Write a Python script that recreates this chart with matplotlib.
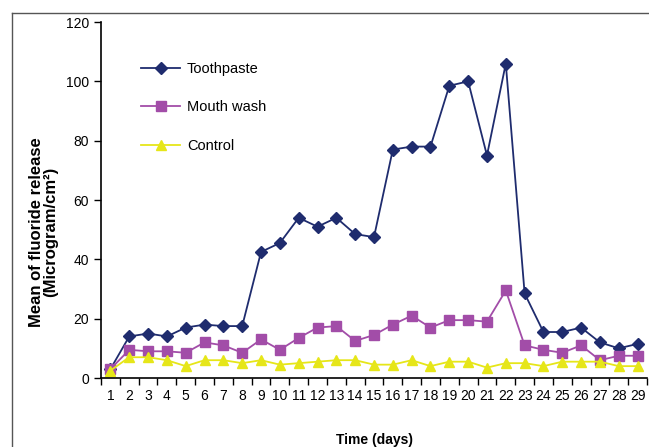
import matplotlib
matplotlib.use("Agg")
import matplotlib.pyplot as plt
from matplotlib.lines import Line2D

plt.rcParams['font.family'] = ['Liberation Sans', 'DejaVu Sans']

days = list(range(1, 30))
toothpaste = [3, 14, 15, 14, 17, 18, 17.5, 17.5, 42.5, 45.5, 54, 51, 54, 48.5, 47.5,
              77, 78, 78, 98.5, 100, 75, 106, 28.5, 15.5, 15.5, 17, 12, 10, 11.5]
mouth_wash = [3, 9.5, 9, 9, 8.5, 12, 11, 8.5, 13, 9.5, 13.5, 17, 17.5, 12.5, 14.5,
              18, 21, 17, 19.5, 19.5, 19, 29.5, 11, 9.5, 8.5, 11, 6, 7.5, 7.5]
control = [2.5, 7, 7, 6, 4, 6, 6, 5, 6, 4.5, 5, 5.5, 6, 6, 4.5,
           4.5, 6, 4, 5.5, 5.5, 3.5, 5, 5, 4, 5.5, 5.5, 5.5, 4, 4]
y_ticks = [0, 20, 40, 60, 80, 100, 120]

fig = plt.figure(figsize=(6.49, 4.47), dpi=100)
ax = fig.add_axes([101/649, 1-378/447, 546/649, 356/447])

ax.plot(days, toothpaste, color='#1F2C6E', marker='D', markersize=6, lw=1.3, label='Toothpaste')
ax.plot(days, mouth_wash, color='#A24DA8', marker='s', markersize=6.5, lw=1.3, label='Mouth wash')
ax.plot(days, control, color='#E6E619', marker='^', markersize=7.5, lw=1.3, label='Control')

ax.set_xlim(0.5, 29.5)
ax.set_ylim(0, 120)
ax.set_yticks(y_ticks)
ax.set_xticks(days)
ax.set_xticks([d - 0.5 for d in days] + [29.5], minor=True)
ax.tick_params(axis='x', which='major', length=0, labelsize=10, pad=8)
ax.tick_params(axis='x', which='minor', length=5, width=1, direction='out')
ax.tick_params(axis='y', length=5, width=1, direction='out', labelsize=10)
for s in ['top', 'right']:
    ax.spines[s].set_visible(False)
for s in ['left', 'bottom']:
    ax.spines[s].set_linewidth(1.2)

ax.set_ylabel('Mean of fluoride release\n(Microgram/cm\u00b2)', fontsize=12, fontweight='bold',
              linespacing=0.95)
ax.yaxis.set_label_coords((58 - 101) / 546, (378 - 232) / 356)
ax.set_xlabel('Time (days)', fontsize=10, fontweight='bold')
ax.xaxis.set_label_coords(0.5, (378 - 433) / 356)

leg = ax.legend(loc='upper left', bbox_to_anchor=(0.049, 0.925), frameon=False, fontsize=10.5,
                labelspacing=1.68, handlelength=2.7, handletextpad=0.45)

fig.add_artist(Line2D([12/649, 12/649], [1-13/447, 0], transform=fig.transFigure, color='#555555', lw=1))
fig.add_artist(Line2D([12/649, 1], [1-13/447, 1-13/447], transform=fig.transFigure, color='#555555', lw=1))

fig.savefig('out.png', dpi=100)
